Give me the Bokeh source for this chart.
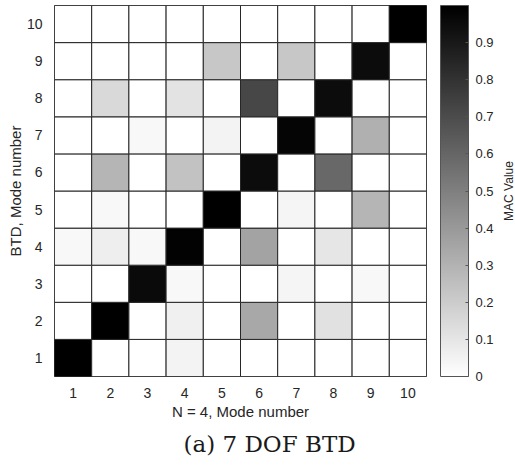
import math
from bokeh.plotting import figure
from bokeh.layouts import row
from bokeh.models import (ColorBar, LinearColorMapper, FixedTicker, Range1d,
                          Title, ColumnDataSource, NumeralTickFormatter)
from bokeh.core.properties import value
from bokeh.palettes import Greys256
from bokeh.embed import file_html
from bokeh.resources import INLINE

# Mode numbers on both axes
btd_modes = list(range(1, 11))      # y: BTD, Mode number
n4_modes = list(range(1, 11))       # x: N = 4, Mode number

# MAC values, one row per BTD mode (1..10), columns = N = 4 modes (1..10)
mac_row_1 = [1.00, 0.00, 0.00, 0.05, 0.00, 0.00, 0.00, 0.00, 0.00, 0.00]
mac_row_2 = [0.00, 1.00, 0.00, 0.06, 0.00, 0.34, 0.00, 0.12, 0.00, 0.00]
mac_row_3 = [0.00, 0.00, 0.96, 0.03, 0.00, 0.00, 0.04, 0.00, 0.03, 0.00]
mac_row_4 = [0.03, 0.07, 0.03, 0.99, 0.00, 0.36, 0.00, 0.10, 0.00, 0.00]
mac_row_5 = [0.00, 0.03, 0.00, 0.00, 1.00, 0.00, 0.04, 0.00, 0.29, 0.00]
mac_row_6 = [0.00, 0.29, 0.00, 0.24, 0.00, 0.95, 0.00, 0.59, 0.00, 0.00]
mac_row_7 = [0.00, 0.00, 0.03, 0.00, 0.05, 0.00, 0.98, 0.00, 0.31, 0.00]
mac_row_8 = [0.00, 0.15, 0.00, 0.11, 0.00, 0.72, 0.00, 0.95, 0.00, 0.00]
mac_row_9 = [0.00, 0.00, 0.00, 0.00, 0.22, 0.00, 0.22, 0.00, 0.95, 0.00]
mac_row_10 = [0.00, 0.00, 0.00, 0.00, 0.00, 0.00, 0.00, 0.00, 0.00, 1.00]

cbar_ticks = [0, 0.1, 0.2, 0.3, 0.4, 0.5, 0.6, 0.7, 0.8, 0.9]

mac_rows = [mac_row_1, mac_row_2, mac_row_3, mac_row_4, mac_row_5,
            mac_row_6, mac_row_7, mac_row_8, mac_row_9, mac_row_10]

xs, ys, vals = [], [], []
for yi, row_vals in zip(btd_modes, mac_rows):
    for xi, v in zip(n4_modes, row_vals):
        xs.append(xi)
        ys.append(yi)
        vals.append(v)
source = ColumnDataSource(dict(x=xs, y=ys, mac=vals))

# 0 -> white, 1 -> black
mapper = LinearColorMapper(palette=list(reversed(Greys256)), low=0, high=1)

SANS = "'Liberation Sans', Arial, Helvetica, sans-serif"
TXT = "#262626"
H = 466
W_MAIN = 498

p = figure(width=W_MAIN, height=H, output_backend="svg", toolbar_location=None,
           x_range=Range1d(0.5, 10.5), y_range=Range1d(0.5, 10.5),
           min_border_left=54, min_border_right=72, min_border_top=5,
           min_border_bottom=90)
p.rect(x="x", y="y", width=1, height=1, source=source,
       fill_color={"field": "mac", "transform": mapper},
       line_color="#262626", line_width=1)

p.grid.visible = False
p.outline_line_color = "#262626"
p.outline_line_width = 1

for ax in (p.xaxis[0], p.yaxis[0]):
    ax.ticker = FixedTicker(ticks=n4_modes)
    ax.axis_line_color = None
    ax.major_tick_line_color = None
    ax.minor_tick_line_color = None
    ax.major_label_text_font = SANS
    ax.major_label_text_font_size = "14px"
    ax.major_label_text_color = TXT
    ax.axis_label_text_font = SANS
    ax.axis_label_text_font_size = "15px"
    ax.axis_label_text_font_style = "normal"
    ax.axis_label_text_color = TXT

p.xaxis.axis_label = "N = 4, Mode number"
p.yaxis.axis_label = "BTD, Mode number"
p.xaxis.major_label_standoff = 5
p.xaxis.axis_label_standoff = 2
p.yaxis.major_label_standoff = 6
p.yaxis.axis_label_standoff = 0

cbar = ColorBar(color_mapper=mapper, ticker=FixedTicker(ticks=cbar_ticks),
                formatter=NumeralTickFormatter(format="0.[0]"),
                width=28, height="auto", margin=0, padding=0,
                location=(14, 0),
                bar_line_color="#555555", bar_line_width=1,
                major_tick_line_color="#555555", major_tick_in=3,
                major_tick_out=0, minor_tick_line_color=None,
                major_label_text_font=SANS, major_label_text_font_size="13px",
                major_label_text_color=TXT, label_standoff=7,
                background_fill_color=None, border_line_color=None)
p.add_layout(cbar, "right")

caption = Title(text="(a) 7 DOF BTD", align="left",
                text_font="DejaVu Serif", text_font_size="23px",
                text_font_style="normal", text_color="#1a1a1a", offset=129,
                standoff=12)
p.add_layout(caption, "below")

# narrow strip (no axes) carrying the colour bar's rotated title; it shares
# the matrix's vertical range, so the title sits at the bar's mid-height
W_LAB = 515 - W_MAIN
lab = figure(width=W_LAB, height=H, output_backend="svg",
             toolbar_location=None, x_range=Range1d(0, W_LAB),
             y_range=p.y_range, min_border=0,
             x_axis_location=None, y_axis_location=None)
lab.grid.visible = False
lab.outline_line_color = None
lab.text(x=[10], y=[5.5], text=["MAC Value"], angle=math.pi / 2,
         text_align="center", text_baseline="middle",
         text_font=value(SANS), text_font_size="12px", text_color=TXT)

layout = row(p, lab, spacing=0)
open("out.html", "w").write(file_html(layout, INLINE))
